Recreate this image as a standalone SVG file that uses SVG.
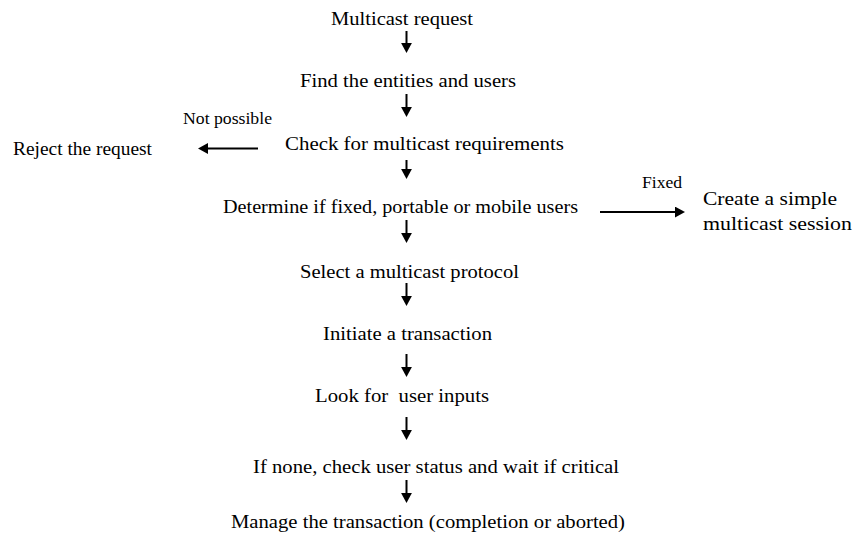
<svg xmlns="http://www.w3.org/2000/svg" width="854" height="541" viewBox="0 0 854 541" font-family="Liberation Serif, Times New Roman, serif">
<defs>
<style>
.m{font-size:19.5px;fill:#000}
.s{font-size:16px;fill:#000}
.c{stroke:#000;stroke-width:2;fill:none}
</style>
<marker id="ah" markerUnits="userSpaceOnUse" markerWidth="11" markerHeight="11" refX="0" refY="5.4" orient="auto">
<path d="M0,0 L10,5.4 L0,10.8 z" fill="#000"/>
</marker>
</defs>
<rect width="854" height="541" fill="#fff"/>
<g id="n1"><text class="m" x="331" y="25" textLength="142" lengthAdjust="spacingAndGlyphs">Multicast request</text></g>
<g id="n2"><text class="m" x="300" y="87" textLength="216" lengthAdjust="spacingAndGlyphs">Find the entities and users</text></g>
<g id="n3"><text class="m" x="285" y="150" textLength="279" lengthAdjust="spacingAndGlyphs">Check for multicast requirements</text></g>
<g id="n4"><text class="m" x="13" y="155" textLength="139" lengthAdjust="spacingAndGlyphs">Reject the request</text></g>
<g id="n5"><text class="m" x="223" y="213" textLength="355" lengthAdjust="spacingAndGlyphs">Determine if fixed, portable or mobile users</text></g>
<g id="n6"><text class="m" x="703" y="205" textLength="134" lengthAdjust="spacingAndGlyphs">Create a simple</text><text class="m" x="703" y="230" textLength="149" lengthAdjust="spacingAndGlyphs">multicast session</text></g>
<g id="n7"><text class="m" x="300" y="278" textLength="219" lengthAdjust="spacingAndGlyphs">Select a multicast protocol</text></g>
<g id="n8"><text class="m" x="323" y="340" textLength="169" lengthAdjust="spacingAndGlyphs">Initiate a transaction</text></g>
<g id="n9"><text class="m" x="315" y="402" textLength="174" lengthAdjust="spacingAndGlyphs" xml:space="preserve">Look for  user inputs</text></g>
<g id="n10"><text class="m" x="253" y="473" textLength="366" lengthAdjust="spacingAndGlyphs">If none, check user status and wait if critical</text></g>
<g id="n11"><text class="m" x="231" y="528" textLength="394" lengthAdjust="spacingAndGlyphs">Manage the transaction (completion or aborted)</text></g>
<g id="connectors">
<line class="c" x1="406.5" y1="31" x2="406.5" y2="43" marker-end="url(#ah)"/>
<line class="c" x1="406.5" y1="94" x2="406.5" y2="107" marker-end="url(#ah)"/>
<line class="c" x1="406.5" y1="160" x2="406.5" y2="169" marker-end="url(#ah)"/>
<line class="c" x1="406.5" y1="220" x2="406.5" y2="233" marker-end="url(#ah)"/>
<line class="c" x1="406.5" y1="283" x2="406.5" y2="296" marker-end="url(#ah)"/>
<line class="c" x1="406.5" y1="354" x2="406.5" y2="367" marker-end="url(#ah)"/>
<line class="c" x1="406.5" y1="417" x2="406.5" y2="430" marker-end="url(#ah)"/>
<line class="c" x1="406.5" y1="480" x2="406.5" y2="493" marker-end="url(#ah)"/>
<line class="c" x1="258" y1="148.5" x2="208" y2="148.5" marker-end="url(#ah)"/>
<line class="c" x1="600" y1="212" x2="675" y2="212" marker-end="url(#ah)"/>
<text class="s" x="183" y="124" textLength="89" lengthAdjust="spacingAndGlyphs">Not possible</text>
<text class="s" x="642" y="188" textLength="40" lengthAdjust="spacingAndGlyphs">Fixed</text>
</g>
</svg>
